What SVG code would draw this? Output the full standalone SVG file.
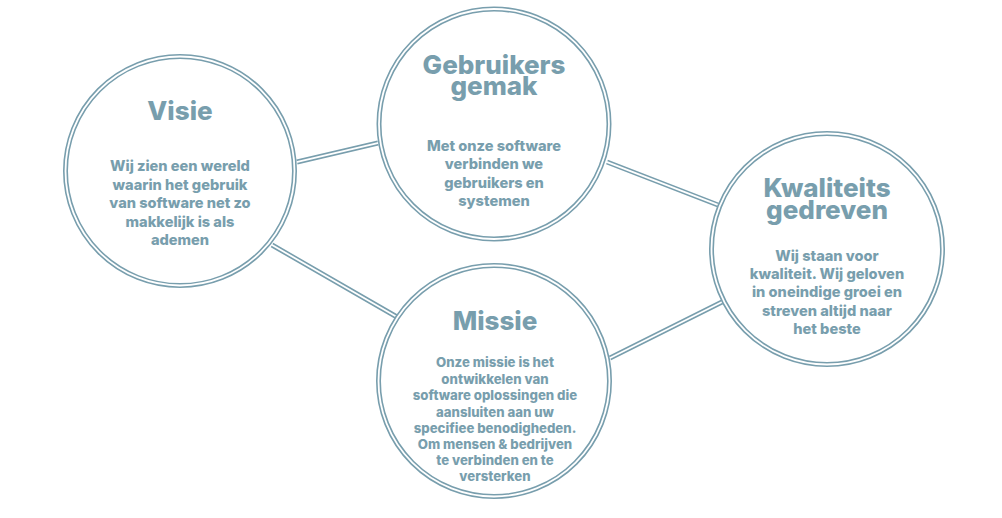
<svg xmlns="http://www.w3.org/2000/svg" width="1002" height="518" viewBox="0 0 1002 518">
<style>
.o{fill:none;stroke:#789ead;stroke-width:5}
.i{fill:none;stroke:#ffffff;stroke-width:1.8}
.c{fill:#ffffff}
.t{font-family:Inter,"Liberation Sans",sans-serif;font-weight:800;fill:#789ead;text-anchor:middle;font-size:26px}
.b{font-family:Inter,"Liberation Sans",sans-serif;font-weight:800;fill:#789ead;text-anchor:middle;font-size:14.6px}
.s{font-family:Inter,"Liberation Sans",sans-serif;font-weight:800;fill:#789ead;text-anchor:middle;font-size:13.2px}
</style>
<rect width="1002" height="518" fill="#ffffff"/>
<g id="connectors">
<path class="o" d="M297 162 L378 143 M272 245 L397 317 M607 162 L718 205 M610 358 L722 302"/>
<path class="i" d="M290 163.6 L385 141.4 M266 241.5 L403 320.5 M600 159.3 L725 207.7 M603 361.5 L729 298.5"/>
</g>
<g id="visie">
<circle class="c" cx="180" cy="171" r="114.5"/>
<circle class="o" cx="180" cy="171" r="114.5"/>
<circle class="i" cx="180" cy="171" r="114.5"/>
<text class="t" x="180" y="120">Visie</text>
<text class="b" x="180" y="171">Wij zien een wereld</text>
<text class="b" x="180" y="190">waarin het gebruik</text>
<text class="b" x="180" y="208">van software net zo</text>
<text class="b" x="180" y="227">makkelijk is als</text>
<text class="b" x="180" y="245">ademen</text>
</g>
<g id="gebruikersgemak">
<circle class="c" cx="494" cy="124" r="115"/>
<circle class="o" cx="494" cy="124" r="115"/>
<circle class="i" cx="494" cy="124" r="115"/>
<text class="t" x="494" y="74">Gebruikers<tspan x="494" dy="21">gemak</tspan></text>
<text class="b" x="494" y="151">Met onze software</text>
<text class="b" x="494" y="169">verbinden we</text>
<text class="b" x="494" y="188">gebruikers en</text>
<text class="b" x="494" y="206">systemen</text>
</g>
<g id="kwaliteitsgedreven">
<circle class="c" cx="827" cy="249" r="115.5"/>
<circle class="o" cx="827" cy="249" r="115.5"/>
<circle class="i" cx="827" cy="249" r="115.5"/>
<text class="t" x="827" y="197">Kwaliteits<tspan x="827" dy="22">gedreven</tspan></text>
<text class="b" x="827" y="261">Wij staan voor</text>
<text class="b" x="827" y="279">kwaliteit. Wij geloven</text>
<text class="b" x="827" y="297">in oneindige groei en</text>
<text class="b" x="827" y="316">streven altijd naar</text>
<text class="b" x="827" y="334">het beste</text>
</g>
<g id="missie">
<circle class="c" cx="494" cy="381" r="115.5"/>
<circle class="o" cx="494" cy="381" r="115.5"/>
<circle class="i" cx="494" cy="381" r="115.5"/>
<text class="t" x="495" y="330">Missie</text>
<text class="s" x="495" y="367">Onze missie is het</text>
<text class="s" x="495" y="383.5">ontwikkelen van</text>
<text class="s" x="495" y="400">software oplossingen die</text>
<text class="s" x="495" y="416.5">aansluiten aan uw</text>
<text class="s" x="495" y="433">specifiee benodigheden.</text>
<text class="s" x="495" y="449">Om mensen &amp; bedrijven</text>
<text class="s" x="495" y="465">te verbinden en te</text>
<text class="s" x="495" y="481">versterken</text>
</g>
</svg>
